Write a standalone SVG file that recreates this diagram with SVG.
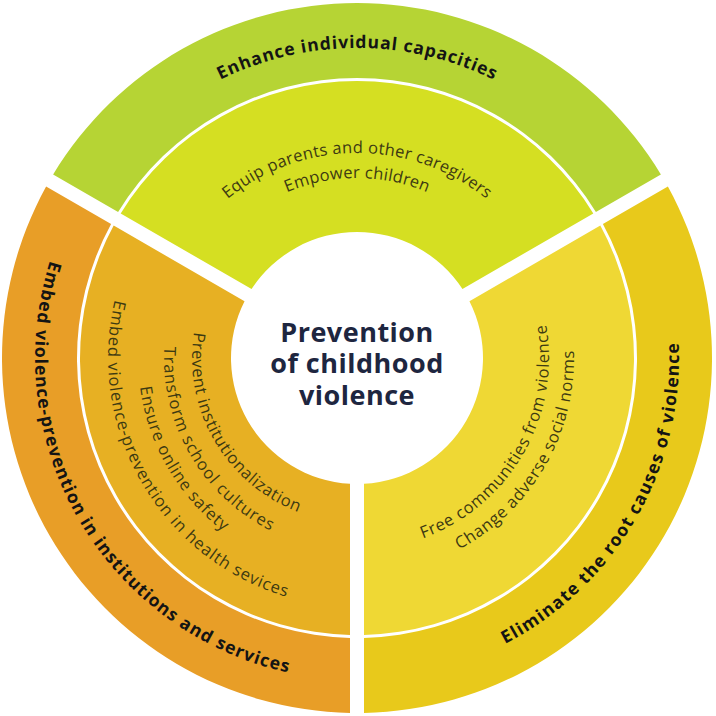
<svg xmlns="http://www.w3.org/2000/svg" xmlns:xlink="http://www.w3.org/1999/xlink" width="716" height="716" viewBox="0 0 716 716">
  <style>
    .outer-label { font-family: "Open Sans", "Noto Sans", "Liberation Sans", sans-serif; font-weight: 700; font-size: 17.5px; fill: #141414; }
    .inner-label { font-family: "Open Sans", "Noto Sans", "Liberation Sans", sans-serif; font-weight: 400; font-size: 16.5px; fill: #3d3a12; }
    .center-label { font-family: "Open Sans", "Noto Sans", "Liberation Sans", sans-serif; font-weight: 700; font-size: 27px; fill: #1e2640; letter-spacing: 0.5px; }
  </style>
  <defs>
    <!-- green: clockwise arcs centred at top (tops outward) -->
    <path id="arc-g-out" d="M 48.18 330.98 A 310 310 0 0 1 665.82 330.98"/>
    <path id="arc-g-1" d="M 152.78 340.13 A 205 205 0 0 1 561.22 340.13"/>
    <path id="arc-g-2" d="M 177.69 342.31 A 180 180 0 0 1 536.31 342.31"/>
    <!-- yellow: counter-clockwise arcs centred at 30deg (tops toward centre) -->
    <path id="arc-y-out" d="M 220.92 649.83 A 322 322 0 0 0 541.69 94.23"/>
    <path id="arc-y-1" d="M 275.86 532.01 A 192 192 0 0 0 467.13 200.72"/>
    <path id="arc-y-2" d="M 265.29 554.67 A 217 217 0 0 0 481.47 180.24"/>
    <!-- orange: counter-clockwise arcs centred at 150deg (tops toward centre) -->
    <path id="arc-o-out" d="M 172.31 94.23 A 322 322 0 0 0 493.08 649.83"/>
    <path id="arc-o-1" d="M 262.36 222.84 A 165 165 0 0 0 426.73 507.54"/>
    <path id="arc-o-2" d="M 246.30 199.90 A 193 193 0 0 0 438.57 532.92"/>
    <path id="arc-o-3" d="M 231.39 178.61 A 219 219 0 0 0 449.55 556.48"/>
    <path id="arc-o-4" d="M 214.18 154.03 A 249 249 0 0 0 462.23 583.67"/>
  </defs>

  <rect x="0" y="0" width="716" height="716" fill="#ffffff"/>

  <g id="sector-enhance">
    <path d="M 53.12 174.47 A 355 355 0 0 1 660.88 174.47 L 595.91 211.98 A 280 280 0 0 0 118.09 211.98 Z" fill="#b6d434"/>
    <path d="M 120.69 213.48 A 277 277 0 0 1 593.31 213.48 L 462.45 289.03 A 126 126 0 0 0 251.55 289.03 Z" fill="#d5df22"/>
    <text class="outer-label"><textPath xlink:href="#arc-g-out" href="#arc-g-out" startOffset="50%" text-anchor="middle" textLength="283">Enhance individual capacities</textPath></text>
    <text class="inner-label"><textPath xlink:href="#arc-g-1" href="#arc-g-1" startOffset="50%" text-anchor="middle" textLength="280">Equip parents and other caregivers</textPath></text>
    <text class="inner-label"><textPath xlink:href="#arc-g-2" href="#arc-g-2" startOffset="50%" text-anchor="middle" textLength="144">Empower children</textPath></text>
  </g>

  <g id="sector-eliminate">
    <path d="M 667.88 186.60 A 355 355 0 0 1 364 712.93 L 364 637.91 A 280 280 0 0 0 602.91 224.11 Z" fill="#e8c91b"/>
    <path d="M 600.31 225.61 A 277 277 0 0 1 364 634.91 L 364 483.81 A 126 126 0 0 0 469.45 301.16 Z" fill="#efd834"/>
    <text class="outer-label"><textPath xlink:href="#arc-y-out" href="#arc-y-out" startOffset="50%" text-anchor="middle" textLength="367">Eliminate the root causes of violence</textPath></text>
    <text class="inner-label"><textPath xlink:href="#arc-y-1" href="#arc-y-1" startOffset="50%" text-anchor="middle" textLength="268">Free communities from violence</textPath></text>
    <text class="inner-label"><textPath xlink:href="#arc-y-2" href="#arc-y-2" startOffset="50%" text-anchor="middle" textLength="242">Change adverse social norms</textPath></text>
  </g>

  <g id="sector-embed">
    <path d="M 350 712.93 A 355 355 0 0 1 46.12 186.60 L 111.09 224.11 A 280 280 0 0 0 350 637.91 Z" fill="#e89e27"/>
    <path d="M 350 634.91 A 277 277 0 0 1 113.69 225.61 L 244.55 301.16 A 126 126 0 0 0 350 483.81 Z" fill="#e7b023"/>
    <text class="outer-label"><textPath xlink:href="#arc-o-out" href="#arc-o-out" startOffset="50%" text-anchor="middle" textLength="535">Embed violence-prevention in institutions and services</textPath></text>
    <text class="inner-label"><textPath xlink:href="#arc-o-1" href="#arc-o-1" startOffset="50%" text-anchor="middle" textLength="225">Prevent institutionalization</textPath></text>
    <text class="inner-label"><textPath xlink:href="#arc-o-2" href="#arc-o-2" startOffset="50%" text-anchor="middle" textLength="225">Transform school cultures</textPath></text>
    <text class="inner-label"><textPath xlink:href="#arc-o-3" href="#arc-o-3" startOffset="50%" text-anchor="middle" textLength="171">Ensure online safety</textPath></text>
    <text class="inner-label"><textPath xlink:href="#arc-o-4" href="#arc-o-4" startOffset="50%" text-anchor="middle" textLength="378">Embed violence-prevention in health sevices</textPath></text>
  </g>

  <g id="center">
    <circle cx="357" cy="358" r="124" fill="#ffffff"/>
    <text class="center-label" x="357" y="342" text-anchor="middle">Prevention</text>
    <text class="center-label" x="357" y="373" text-anchor="middle">of childhood</text>
    <text class="center-label" x="357" y="405" text-anchor="middle">violence</text>
  </g>
</svg>
